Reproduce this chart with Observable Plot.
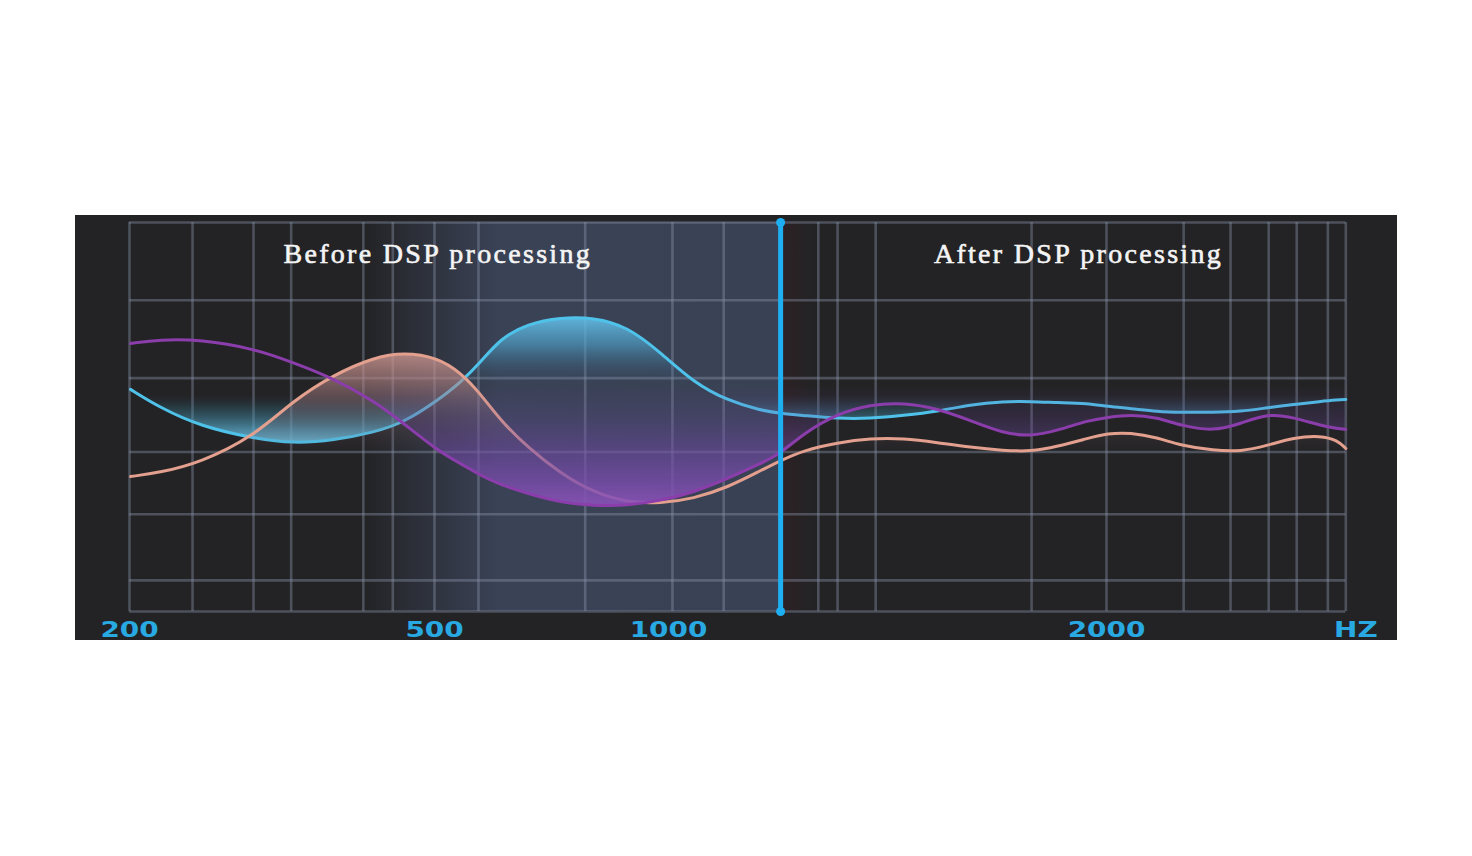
<!DOCTYPE html>
<html><head><meta charset="utf-8">
<script src="https://cdn.jsdelivr.net/npm/d3@7"></script>
<script src="https://cdn.jsdelivr.net/npm/@observablehq/plot@0.6"></script>
<style>
html,body{margin:0;padding:0;background:#fff;}
#chart{position:absolute;left:75px;top:215px;}
</style></head><body><div id="chart"></div>
<script>
// frequencies (Hz) at which the three response curves were read
const freqs = [201, 230, 270, 322, 361, 401, 440, 470, 506, 556, 598, 641, 699, 769, 840, 912, 983, 1057, 1135, 1210, 1256, 1308, 1386, 1461, 1537, 1614, 1689, 1765, 1826, 1888, 1957, 2002, 2055, 2116, 2169, 2244, 2306, 2368, 2427, 2489, 2527, 2546];
// response levels (arbitrary units, 0 = bottom of grid, 100 = top)
const blueLevels = [57.1, 52.4, 47.6, 44.5, 43.2, 44.0, 46.0, 48.6, 54.2, 58.9, 64.0, 70.2, 74.0, 75.6, 75.6, 73.3, 66.6, 58.9, 54.2, 51.7, 50.9, 50.4, 49.6, 49.6, 50.4, 51.4, 53.2, 54.0, 54.0, 53.7, 53.5, 52.7, 52.2, 51.4, 51.2, 51.2, 51.4, 52.4, 53.2, 54.0, 54.4, 54.5];
const purpleLevels = [68.9, 69.9, 69.9, 67.6, 64.0, 59.9, 54.2, 48.3, 41.4, 38.0, 35.0, 32.6, 30.3, 28.0, 27.2, 27.2, 28.5, 30.6, 34.2, 38.0, 40.6, 45.8, 50.9, 53.2, 53.7, 52.2, 49.1, 45.8, 45.0, 46.5, 49.1, 49.9, 50.6, 49.9, 47.8, 46.3, 48.3, 50.9, 49.9, 47.8, 47.0, 46.8];
const pinkLevels = [34.7, 35.7, 38.3, 45.0, 54.2, 60.9, 65.3, 66.6, 65.3, 61.4, 56.0, 49.1, 42.2, 35.5, 30.6, 28.0, 27.8, 29.0, 31.9, 36.2, 38.8, 41.4, 43.4, 44.5, 44.5, 43.4, 42.2, 41.4, 41.1, 42.4, 44.5, 45.8, 46.0, 44.7, 42.7, 41.4, 41.1, 42.7, 44.7, 45.2, 44.0, 41.9];
// grid
const gridFreqs = [200, 262, 322, 359, 430, 459, 500, 594, 822, 1009, 1126, 1342, 1386, 1473, 1829, 2000, 2176, 2283, 2370, 2434, 2505, 2546];
const gridLevels = [0, 8, 25, 41, 60, 80, 100];
// tick labels
const tickValues = [200, 500, 1000, 2000, 2569];
const tickLabels = ["200", "500", "1000", "2000", "HZ"];
// divider between the two halves
const dividerFreq = 1256;
const titleBefore = "Before DSP processing";
const titleAfter = "After DSP processing";

const rows = freqs.map((f, i) => ({f, blue: blueLevels[i], purple: purpleLevels[i], pink: pinkLevels[i]}));
const curve = "basis";

const chart = Plot.plot({
  width: 1322,
  height: 425,
  x: {type: "linear", domain: [200, 500, 1000, 2000, 2600], range: [54, 359, 593, 1031, 1294]},
  y: {domain: [0, 100], range: [396, 7]},
  axis: null,
  style: {background: "#232325", overflow: "visible"},
  marks: [
    Plot.rect([0], {x1: 420, x2: dividerFreq, y1: 0, y2: 100, fill: "url(#gSlate)"}),
    Plot.rect([0], {x1: dividerFreq, x2: 1500, y1: 0, y2: 100, fill: "url(#gRed)"}),
    Plot.ruleY(gridLevels, {x1: 200, x2: 2546, stroke: "#8c97ad", strokeOpacity: 0.4, strokeWidth: 2.6}),
    Plot.ruleX(gridFreqs, {y1: 0, y2: 100, stroke: "#8c97ad", strokeOpacity: 0.4, strokeWidth: 2.6}),
    Plot.areaY(rows, {x: "f", y1: 55.5, y2: "blue", curve, fill: "url(#gBlue)"}),
    Plot.line(rows, {x: "f", y: "blue", curve, stroke: "#4fc2ea", strokeWidth: 3}),
    Plot.areaY(rows, {x: "f", y1: 40.9, y2: "pink", curve, fill: "url(#gPink)"}),
    Plot.line(rows, {x: "f", y: "pink", curve, stroke: "#e3a08e", strokeWidth: 3}),
    Plot.areaY(rows, {x: "f", y1: 58.1, y2: "purple", curve, fill: "url(#gPurple)"}),
    Plot.line(rows, {x: "f", y: "purple", curve, stroke: "#8b3dab", strokeWidth: 3}),
    Plot.ruleX([dividerFreq], {y1: 0, y2: 100, stroke: "#1eaef2", strokeWidth: 5}),
    Plot.dot([0, 100], {x: dividerFreq, y: d => d, r: 4.5, fill: "#1eaef2"}),
    Plot.text([titleBefore], {x: 507, y: 91.8, text: d => d, fill: "#f4f4f4", stroke: "#f4f4f4", strokeWidth: 0.6, fontSize: 28, fontFamily: "Liberation Serif", textAnchor: "middle"}),
    Plot.text([titleAfter], {x: 1936, y: 91.8, text: d => d, fill: "#f4f4f4", stroke: "#f4f4f4", strokeWidth: 0.6, fontSize: 28, fontFamily: "Liberation Serif", textAnchor: "middle"}),
    Plot.text(tickValues, {x: d => d, y: -4.8, text: (d, i) => tickLabels[i], fill: "#28a9e2", fontSize: 21, fontWeight: "bold", fontFamily: "DejaVu Sans", textAnchor: "middle"})
  ]
});

// gradients
const sy = chart.scale("y"), sx = chart.scale("x");
const H = 425, W = 1322;
const defs = d3.select(chart).insert("defs", ":first-child");
function vgrad(id, stops) {
  const g = defs.append("linearGradient").attr("id", id).attr("gradientUnits", "userSpaceOnUse")
    .attr("x1", 0).attr("x2", 0).attr("y1", 0).attr("y2", H);
  stops.sort((a, b) => sy.apply(a[0]) - sy.apply(b[0]));
  for (const [v, c, o] of stops) g.append("stop").attr("offset", sy.apply(v) / H).attr("stop-color", c).attr("stop-opacity", o);
}
function hgrad(id, stops) {
  const g = defs.append("linearGradient").attr("id", id).attr("gradientUnits", "userSpaceOnUse")
    .attr("x1", 0).attr("x2", W).attr("y1", 0).attr("y2", 0);
  for (const [f, c, o] of stops) g.append("stop").attr("offset", sx.apply(f) / W).attr("stop-color", c).attr("stop-opacity", o);
}
vgrad("gBlue", [[75.8, "#66c4ee", 0.9], [68.4, "#4fa6cf", 0.6], [62, "#3b7c9c", 0.18], [58.1, "#2d5a70", 0], [55.5, "#2d5a70", 0], [51.7, "#3c8aa6", 0.3], [46.5, "#5db2d4", 0.7], [42.7, "#78c6e6", 0.9]]);
vgrad("gPink", [[67.1, "#d09a92", 0.85], [59.4, "#b78585", 0.6], [51.7, "#9a7a86", 0.3], [44, "#7a5a60", 0.1], [40.9, "#6a4a50", 0]]);
vgrad("gPurple", [[58.1, "#6a4a9a", 0], [50, "#6a48a0", 0.2], [42, "#7048a6", 0.5], [34, "#7a4cae", 0.75], [27.2, "#8a52b8", 0.92]]);
hgrad("gSlate", [[430, "#3a4256", 0], [520, "#3a4256", 0.6], [640, "#3a4256", 1], [dividerFreq, "#394154", 1]]);
hgrad("gRed", [[dividerFreq, "#3a1e22", 0.45], [1330, "#3a1e22", 0]]);

d3.select(chart).selectAll("text").each(function () {
  const t = this.textContent;
  if (t === titleBefore || t === titleAfter) this.style.letterSpacing = "2.3px";
  if (tickLabels.includes(t)) {
    const tr = this.getAttribute("transform") || "";
    this.setAttribute("transform", tr + " scale(1.33,1)");
  }
});

document.getElementById("chart").appendChild(chart);
</script></body></html>
